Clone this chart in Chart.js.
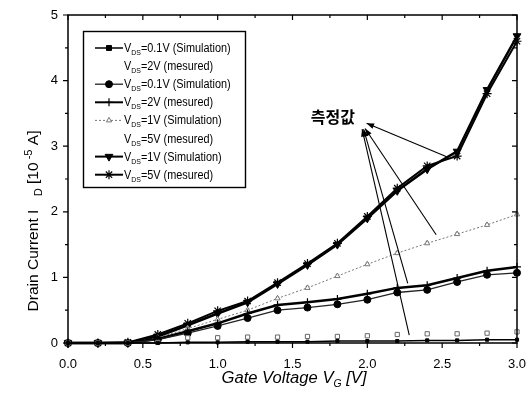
<!DOCTYPE html>
<html>
<head>
<meta charset="utf-8">
<script src="https://cdn.jsdelivr.net/npm/chart.js@4.4.1/dist/chart.umd.min.js"></script>
<style>
html, body { margin: 0; padding: 0; background: #fff; }
#wrap { width: 529px; height: 403px; }
</style>
</head>
<body>
<div id="wrap"><canvas id="ivChart" width="529" height="403"></canvas></div>
<script>
// Gate voltage sweep (V)
const gateVoltage = [0, 0.2, 0.4, 0.6, 0.8, 1.0, 1.2, 1.4, 1.6, 1.8, 2.0, 2.2, 2.4, 2.6, 2.8, 3.0];

// Drain current, 10^-5 A
const sim01Square = [0, 0, 0, 0, 0.01, 0.01, 0.02, 0.02, 0.02, 0.03, 0.03, 0.03, 0.04, 0.04, 0.05, 0.05];
const meas2Square = [0, 0, 0, 0.01, 0.08, 0.08, 0.09, 0.09, 0.1, 0.1, 0.11, 0.13, 0.14, 0.14, 0.15, 0.17];
const sim01Circle = [0, 0, 0, 0.05, 0.15, 0.26, 0.38, 0.5, 0.54, 0.59, 0.66, 0.77, 0.81, 0.93, 1.04, 1.07];
const meas2Plus   = [0, 0, 0, 0.06, 0.18, 0.3, 0.45, 0.58, 0.62, 0.67, 0.75, 0.84, 0.88, 0.99, 1.1, 1.16];
const sim1Tri     = [0, 0, 0, 0.08, 0.22, 0.36, 0.5, 0.68, 0.84, 1.02, 1.2, 1.37, 1.52, 1.66, 1.8, 1.96];
const meas5Open   = [0, 0, 0, 0.09, 0.24, 0.38, 0.52, 0.7, 0.86, 1.04, 1.22, 1.39, 1.54, 1.68, 1.82, 1.98];
const sim1Down    = [0, 0, 0, 0.1, 0.27, 0.45, 0.62, 0.9, 1.19, 1.5, 1.9, 2.32, 2.65, 2.92, 3.86, 4.68];
const meas5Star   = [0, 0, 0.01, 0.13, 0.3, 0.49, 0.64, 0.92, 1.21, 1.52, 1.93, 2.36, 2.7, 2.85, 3.8, 4.6];

const legendTexts = ["=0.1V (Simulation)", "=2V (mesured)", "=0.1V (Simulation)", "=2V (mesured)",
                     "=1V (Simulation)", "=5V (mesured)", "=1V (Simulation)", "=5V (mesured)"];

const xTicks = [0, 0.5, 1.0, 1.5, 2.0, 2.5, 3.0];
const yTicks = [0, 1, 2, 3, 4, 5];

const FONT = '"Liberation Sans", Arial, sans-serif';

function pts(arr) {
    return arr.map((v, i) => ({ x: gateVoltage[i], y: v }));
}

// callout "측정값" (data units)
const calloutText = "측정값";
const calloutPos = [1.77, 3.44];
const calloutArrows = [
    { from: [2.53, 2.84], to: [1.995, 3.35] },
    { from: [2.28, 0.12], to: [1.965, 3.26] },
    { from: [2.27, 0.91], to: [1.975, 3.26] },
    { from: [2.46, 1.65], to: [1.985, 3.27] }
];

function drawRich(ctx, parts, x0, y0, target, center) {
    let w = 0;
    parts.forEach(p => {
        ctx.font = p.font;
        p.w = p.gap ? p.gap : ctx.measureText(p.t).width;
        w += p.w;
    });
    const k = target ? target / w : 1;
    ctx.save();
    ctx.translate(center ? x0 - w * k / 2 : x0, y0);
    ctx.scale(k, 1);
    let x = 0;
    parts.forEach(p => {
        if (!p.gap) {
            ctx.font = p.font;
            ctx.fillText(p.t, x, p.dy || 0);
        }
        x += p.w;
    });
    ctx.restore();
}

function arrowHead(ctx, x1, y1, x2, y2, size) {
    const a = Math.atan2(y2 - y1, x2 - x1);
    ctx.beginPath();
    ctx.moveTo(x2, y2);
    ctx.lineTo(x2 - size * Math.cos(a - 0.35), y2 - size * Math.sin(a - 0.35));
    ctx.lineTo(x2 - size * Math.cos(a + 0.35), y2 - size * Math.sin(a + 0.35));
    ctx.closePath();
    ctx.fill();
}

const framePlugin = {
    id: "frame",
    afterDatasetsDraw(chart) {
        const ctx = chart.ctx;
        const xs = chart.scales.x, ys = chart.scales.y;
        const L = xs.getPixelForValue(0), R = xs.getPixelForValue(3);
        const T = ys.getPixelForValue(5), B = ys.getPixelForValue(0);
        ctx.save();
        ctx.setLineDash([]);
        ctx.globalAlpha = 1;
        ctx.strokeStyle = "#000";
        ctx.fillStyle = "#000";
        ctx.lineWidth = 1.5;
        ctx.beginPath();
        ctx.rect(L, T, R - L, B - T);
        ctx.stroke();

        // ticks: outward on bottom/left, inward on top/right
        ctx.lineWidth = 1.2;
        ctx.beginPath();
        for (let v = 0; v <= 3.0001; v += 0.25) {
            const px = xs.getPixelForValue(v);
            const len = Math.abs(v * 2 - Math.round(v * 2)) < 1e-6 ? 5 : 3;
            ctx.moveTo(px, B); ctx.lineTo(px, B + len);
            ctx.moveTo(px, T); ctx.lineTo(px, T + len);
        }
        for (let v = 0; v <= 5.0001; v += 0.5) {
            const py = ys.getPixelForValue(v);
            const len = Math.abs(v - Math.round(v)) < 1e-6 ? 5 : 3;
            ctx.moveTo(L, py); ctx.lineTo(L - len, py);
            ctx.moveTo(R, py); ctx.lineTo(R - len, py);
        }
        ctx.stroke();

        // axis titles
        ctx.textBaseline = "alphabetic";
        drawRich(ctx, [
            { t: "Gate Voltage V", font: "italic 16px " + FONT },
            { t: "G", font: "italic 10px " + FONT, dy: 4 },
            { t: " [V]", font: "italic 16px " + FONT }
        ], 294, 383, 145, true);

        ctx.save();
        ctx.translate(38, 221);
        ctx.rotate(-Math.PI / 2);
        drawRich(ctx, [
            { t: "Drain Current I", font: "14px " + FONT },
            { gap: 12 },
            { t: "D", font: "10px " + FONT, dy: 4 },
            { t: " [10", font: "14px " + FONT },
            { t: " -5", font: "10px " + FONT, dy: -6 },
            { t: " A]", font: "14px " + FONT }
        ], 0, 0, 181, true);
        ctx.restore();

        // callout
        ctx.font = "bold 16px 'Noto Sans CJK KR', sans-serif";
        ctx.textAlign = "center";
        ctx.textBaseline = "middle";
        ctx.fillText(calloutText, xs.getPixelForValue(calloutPos[0]), ys.getPixelForValue(calloutPos[1]));
        ctx.lineWidth = 1.1;
        calloutArrows.forEach(ar => {
            const x1 = xs.getPixelForValue(ar.from[0]), y1 = ys.getPixelForValue(ar.from[1]);
            const x2 = xs.getPixelForValue(ar.to[0]), y2 = ys.getPixelForValue(ar.to[1]);
            ctx.beginPath(); ctx.moveTo(x1, y1); ctx.lineTo(x2, y2); ctx.stroke();
            arrowHead(ctx, x1, y1, x2, y2, 8);
        });

        // legend box
        ctx.textAlign = "left";
        ctx.textBaseline = "alphabetic";
        ctx.fillStyle = "#fff";
        ctx.fillRect(83, 31, 162, 156);
        ctx.strokeStyle = "#000";
        ctx.lineWidth = 1.4;
        ctx.strokeRect(83.5, 31.5, 162, 156);
        chart.data.datasets.forEach((ds, i) => {
            const y = 48 + i * 18.1;
            if (ds.legendSample !== false) {
                ctx.strokeStyle = ds.borderColor;
                ctx.lineWidth = Math.min(ds.borderWidth, 2);
                ctx.setLineDash(ds.borderDash || []);
                ctx.beginPath(); ctx.moveTo(95, y); ctx.lineTo(123, y); ctx.stroke();
                ctx.setLineDash([]);
                ctx.fillStyle = ds.pointBackgroundColor;
                ctx.strokeStyle = ds.pointBorderColor;
                ctx.lineWidth = ds.pointBorderWidth;
                Chart.helpers.drawPoint(ctx, {
                    pointStyle: ds.pointStyle, radius: ds.legendRadius || ds.pointRadius,
                    rotation: ds.pointRotation || 0, borderWidth: ds.pointBorderWidth
                }, 109, y);
            }
            ctx.fillStyle = "#000";
            ctx.save();
            ctx.translate(124, y + 4);
            ctx.scale(0.87, 1);
            drawRich(ctx, [
                { t: "V", font: "12.5px " + FONT },
                { t: "DS", font: "8px " + FONT, dy: 3 },
                { t: legendTexts[i], font: "12.5px " + FONT }
            ], 0, 0, 0, false);
            ctx.restore();
        });
        ctx.restore();
    }
};

function series(data, o) {
    return Object.assign({
        data: pts(data),
        borderColor: "#000",
        borderWidth: 1.5,
        pointBackgroundColor: "#000",
        pointBorderColor: "#000",
        pointBorderWidth: 1,
        pointRadius: 3,
        tension: 0,
        clip: false
    }, o);
}

new Chart(document.getElementById("ivChart"), {
    type: "line",
    data: {
        datasets: [
            series(sim01Square, { pointStyle: "rect", pointRadius: 2.2, legendRadius: 3.5 }),
            series(meas2Square, { showLine: false, legendSample: false, pointStyle: "rect", pointRadius: 3,
                pointBackgroundColor: "#fff", pointBorderColor: "#666", borderColor: "#fff" }),
            series(sim01Circle, { pointStyle: "circle", pointRadius: 3.5, borderWidth: 1.3, borderColor: "#222" }),
            series(meas2Plus, { pointStyle: "cross", pointRadius: 4, borderWidth: 2.5, pointBorderWidth: 1.2 }),
            series(sim1Tri, { pointStyle: "triangle", pointRadius: 3, borderWidth: 1, borderColor: "#777",
                borderDash: [2, 2], pointBackgroundColor: "#fff", pointBorderColor: "#777" }),
            series(meas5Open, { showLine: false, legendSample: false, pointStyle: "rectRot", pointRadius: 1.5,
                pointBackgroundColor: "#fff", pointBorderColor: "#999", borderColor: "#fff" }),
            series(sim1Down, { pointStyle: "triangle", pointRotation: 180, pointRadius: 4.5, borderWidth: 2.5 }),
            series(meas5Star, { pointStyle: "star", pointRadius: 4.5, borderWidth: 2, pointBorderWidth: 1.2 })
        ]
    },
    options: {
        responsive: false,
        animation: false,
        devicePixelRatio: 1,
        layout: { padding: { top: 15, right: 12, left: 0, bottom: 0 } },
        plugins: { legend: { display: false }, tooltip: { enabled: false } },
        scales: {
            x: {
                type: "linear", min: 0, max: 3,
                afterFit: s => { s.height = 60; s.paddingLeft = 0; s.paddingRight = 0; },
                afterBuildTicks: s => { s.ticks = xTicks.map(v => ({ value: v })); },
                grid: { display: false },
                border: { display: false },
                ticks: { color: "#000", padding: 6, maxRotation: 0, font: { family: FONT, size: 13 },
                    callback: v => v.toFixed(1) }
            },
            y: {
                type: "linear", min: 0, max: 5,
                afterFit: s => { s.width = 68; s.paddingTop = 0; s.paddingBottom = 0; },
                afterBuildTicks: s => { s.ticks = yTicks.map(v => ({ value: v })); },
                grid: { display: false },
                border: { display: false },
                ticks: { color: "#000", padding: 2, font: { family: FONT, size: 13 } }
            }
        }
    },
    plugins: [framePlugin]
});
</script>
</body>
</html>
